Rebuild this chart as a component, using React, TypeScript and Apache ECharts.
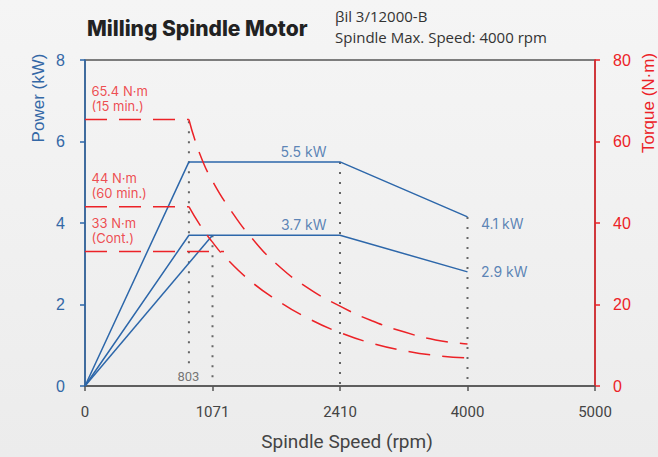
import React, { useEffect, useRef } from "react";
import * as echarts from "echarts";

// X axis: evenly spaced tick positions labelled with these speeds (rpm)
const xTickLabels = ["0", "1071", "2410", "4000", "5000"];
const baseSpeedPos = 0.815; // position of 803 rpm on the axis
const baseSpeedLabel = "803";

// Power curves (kW) – x in axis positions
const power15Pos = [0, baseSpeedPos, 2, 3];
const power15Kw = [0, 5.5, 5.5, 4.15];
const powerContPos = [0, baseSpeedPos, 2, 3];
const powerContKw = [0, 3.7, 3.7, 2.8];
const powerCont2Pos = [0, 1];
const powerCont2Kw = [0, 3.7];

// Torque curves (N·m)
const torque15Pos = [0.815, 0.9, 1.0, 1.15, 1.3, 1.5, 1.75, 2.0, 2.25, 2.5, 2.75, 3.0];
const torque15Nm = [65.4, 57.0, 50.3, 42.8, 36.6, 30.0, 24.0, 19.6, 16.0, 13.3, 11.3, 10.3];
const torque60Pos = [0.815, 0.9, 1.0, 1.1, 1.3, 1.5, 1.75, 2.0, 2.25, 2.5, 2.75, 3.0];
const torque60Nm = [44, 39.6, 35.3, 31.6, 25.7, 21.2, 16.6, 13.1, 10.5, 8.7, 7.5, 6.9];

// Flat torque levels
const torqueLevels = [65.4, 44, 33];
const torqueLevelEnd = [0.815, 0.815, 1.09];
const torqueLevelText = ["65.4 N·m\n(15 min.)", "44 N·m\n(60 min.)", "33 N·m\n(Cont.)"];

// Dotted guide lines (power axis)
const guidePos = [0.815, 1, 2, 3];
const guideTop = [6.5, 3.7, 5.5, 4.15];
const guideBottom = [0.45, 0, 0, 0];

// Power notes
const notePos = [2, 2, 3, 3];
const noteKw = [5.5, 3.7, 4.15, 2.8];
const noteText = ["5.5 kW", "3.7 kW", "4.1 kW", "2.9 kW"];

const BLUE = "#2d67aa";
const BLUE_TXT = "#3468a6";
const RED = "#ec2227";
const GREY = "#555";

export default function App() {
  const ref = useRef<HTMLDivElement>(null);
  useEffect(() => {
    document.body.style.margin = "0";
    const chart = echarts.init(ref.current!, null, { renderer: "svg" });

    const noteOffsets: any[] = [
      { position: [-13, -10], align: "right" },
      { position: [-13, -10], align: "right" },
      { position: [14, 7], align: "left" },
      { position: [14, 0], align: "left" },
    ];

    const zip = (a: number[], b: number[]) => a.map((v, i) => [v, b[i]]);
    const powerLine = (name: string, data: number[][]) => ({
      name,
      type: "line",
      yAxisIndex: 0,
      data,
      symbol: "none",
      lineStyle: { color: BLUE, width: 1.5 },
      z: 3,
    });
    const dashStyle = { color: RED, width: 1.5, type: [22, 12] };

    const series: any[] = [
      powerLine("P15", zip(power15Pos, power15Kw)),
      powerLine("PCont", zip(powerContPos, powerContKw)),
      powerLine("PCont2", zip(powerCont2Pos, powerCont2Kw)),
      {
        name: "T15",
        type: "line",
        yAxisIndex: 1,
        data: zip(torque15Pos, torque15Nm),
        smooth: 0.5,
        symbol: "none",
        lineStyle: dashStyle,
      },
      {
        name: "T60",
        type: "line",
        yAxisIndex: 1,
        data: zip(torque60Pos, torque60Nm),
        smooth: 0.5,
        symbol: "none",
        lineStyle: dashStyle,
      },
      ...torqueLevels.map((t, i) => ({
        name: "TL" + i,
        type: "line",
        yAxisIndex: 1,
        data: [
          [0, t],
          [torqueLevelEnd[i], t],
        ],
        symbol: "none",
        lineStyle: dashStyle,
      })),
      ...guidePos.map((p, i) => ({
        name: "G" + i,
        type: "line",
        yAxisIndex: 0,
        data: [
          [p, guideTop[i]],
          [p, guideBottom[i]],
        ],
        symbol: "none",
        lineStyle: { color: "#666", width: 2, type: [2, 8] },
        z: 1,
      })),
      {
        name: "notes",
        type: "scatter",
        yAxisIndex: 0,
        symbolSize: 1,
        itemStyle: { color: "transparent" },
        data: notePos.map((p, i) => ({
          value: [p, noteKw[i]],
          label: {
            show: true,
            formatter: noteText[i],
            position: noteOffsets[i].position,
            align: noteOffsets[i].align,
            verticalAlign: "middle",
            color: BLUE_TXT,
            fontSize: 14,
            fontFamily: "Inter",
          },
        })),
        z: 5,
      },
      {
        name: "torqueNotes",
        type: "scatter",
        yAxisIndex: 1,
        symbolSize: 1,
        itemStyle: { color: "transparent" },
        data: torqueLevels.map((t, i) => ({
          value: [0, t],
          label: {
            show: true,
            formatter: torqueLevelText[i],
            position: [7, -5],
            align: "left",
            verticalAlign: "bottom",
            color: RED,
            fontSize: 13,
            lineHeight: 15.5,
            fontFamily: "Inter",
          },
        })),
        z: 5,
      },
      {
        name: "base",
        type: "scatter",
        yAxisIndex: 0,
        symbolSize: 1,
        itemStyle: { color: "transparent" },
        data: [
          {
            value: [baseSpeedPos, 0],
            label: {
              show: true,
              formatter: baseSpeedLabel,
              position: [0, -9],
              align: "center",
              verticalAlign: "middle",
              color: GREY,
              fontSize: 13,
              fontFamily: "Roboto",
            },
          },
        ],
        z: 5,
      },
    ];

    chart.setOption({
      animation: false,
      backgroundColor: "transparent",
      grid: {
        left: 85,
        right: 63,
        top: 60,
        bottom: 71,
        show: true,
        borderColor: GREY,
        borderWidth: 1.5,
        backgroundColor: "transparent",
      },
      xAxis: {
        type: "value",
        min: 0,
        max: 4,
        interval: 1,
        axisLine: { show: true, onZero: false, lineStyle: { color: GREY, width: 1.5 } },
        axisTick: { show: true, length: 5, lineStyle: { color: GREY, width: 1.5 } },
        axisLabel: {
          formatter: (v: number) => xTickLabels[Math.round(v)],
          color: "#444",
          fontSize: 15,
          fontFamily: "Roboto",
          margin: 18,
        },
        splitLine: { show: false },
        name: "Spindle Speed (rpm)",
        nameLocation: "middle",
        nameGap: 46,
        nameTextStyle: { color: "#444", fontSize: 19, fontFamily: "Roboto", padding: [0, 0, 0, 14] },
      },
      yAxis: [
        {
          type: "value",
          min: 0,
          max: 8,
          interval: 2,
          position: "left",
          axisLine: { show: true, lineStyle: { color: BLUE, width: 1.5 } },
          axisTick: { show: true, length: 5, lineStyle: { color: BLUE, width: 1.5 } },
          axisLabel: { color: BLUE_TXT, fontSize: 16, margin: 20, fontFamily: "Liberation Sans" },
          splitLine: { show: false },
        },
        {
          type: "value",
          min: 0,
          max: 80,
          interval: 20,
          position: "right",
          axisLine: { show: true, lineStyle: { color: RED, width: 1.5 } },
          axisTick: { show: true, length: 5, lineStyle: { color: RED, width: 1.5 } },
          axisLabel: { color: RED, fontSize: 16, margin: 18, fontFamily: "Liberation Sans" },
          splitLine: { show: false },
        },
      ],
      graphic: [
        {
          type: "text",
          x: 87,
          y: 28,
          style: {
            text: "Milling Spindle Motor",
            fontSize: 21,
            fontWeight: 800,
            fontFamily: "Inter",
            fill: "#222",
            align: "left",
            verticalAlign: "middle",
          },
        },
        {
          type: "text",
          x: 335,
          y: 16,
          style: {
            text: "βil 3/12000-B",
            fontSize: 15,
            fontFamily: "Open Sans",
            fill: "#333",
            align: "left",
            verticalAlign: "middle",
          },
        },
        {
          type: "text",
          x: 335,
          y: 37,
          style: {
            text: "Spindle Max. Speed: 4000 rpm",
            fontSize: 15,
            fontFamily: "Open Sans",
            fill: "#333",
            align: "left",
            verticalAlign: "middle",
          },
        },
        {
          type: "text",
          x: 38,
          y: 98,
          rotation: Math.PI / 2,
          style: {
            text: "Power (kW)",
            fontSize: 17,
            fontFamily: "Liberation Sans",
            fill: BLUE_TXT,
            align: "center",
            verticalAlign: "middle",
          },
        },
        {
          type: "text",
          x: 648,
          y: 103,
          rotation: Math.PI / 2,
          style: {
            text: "Torque (N·m)",
            fontSize: 17,
            fontFamily: "Liberation Sans",
            fill: RED,
            align: "center",
            verticalAlign: "middle",
          },
        },
      ],
      series,
    });
    return () => chart.dispose();
  }, []);

  return (
    <div
      style={{
        position: "fixed",
        left: 0,
        top: 0,
        width: 658,
        height: 457,
        background: "linear-gradient(#f5f5f5, #ececec)",
      }}
    >
      <div ref={ref} style={{ width: 658, height: 457 }} />
    </div>
  );
}
